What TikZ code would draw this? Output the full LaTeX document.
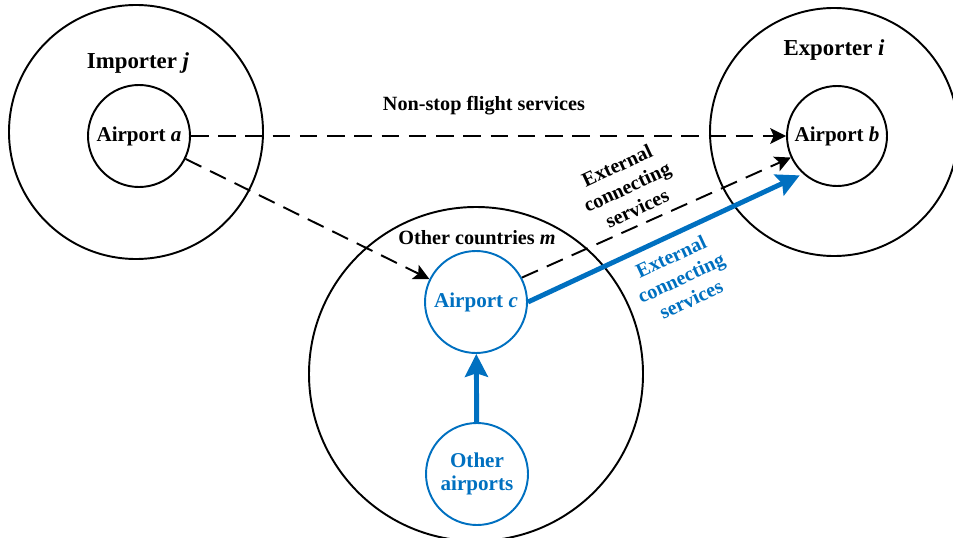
\documentclass[tikz,border=0pt]{standalone}
\usepackage{fontspec}
\setmainfont{Liberation Serif}
\usetikzlibrary{arrows.meta}
\definecolor{airblue}{RGB}{0,112,192}
\newcommand{\lblfont}{\fontsize{11.5}{13.5}\selectfont\bfseries}
\newcommand{\portfont}{\fontsize{12}{13.5}\selectfont\bfseries}
\newcommand{\ctryfont}{\fontsize{13}{15}\selectfont\bfseries}
\tikzset{
	country/.style={draw, circle, line width=1.1pt, inner sep=0pt, minimum size=#1},
	port/.style={draw, circle, line width=1.1pt, inner sep=0pt, minimum size=2.04cm, font=\portfont, align=center},
	flightdash/.style={line width=1.1pt, dash pattern=on 10pt off 5.5pt, -{Stealth[length=9pt, width=9pt, inset=2pt]}},
	bluearrow/.style={airblue, line width=2.8pt, -{Stealth[length=13pt, width=13pt, inset=2pt]}}
}

\begin{document}
\begin{tikzpicture}
		%%%%% START %%%%%
		\useasboundingbox (0, 0) rectangle (19.06, -10.74);
		
		\node[country=5.08cm] (imp) at (2.72, -2.64) {};
		\node[country=4.96cm] (exp) at (16.68, -2.64) {};
		\node[country=6.68cm] (oth) at (9.52, -7.48) {};
		
		\node[font=\ctryfont] (impl) at (2.76, -1.26) {Importer \textit{j}};
		\node[font=\ctryfont] (expl) at (16.68, -1.0) {Exporter \textit{i}};
		\node[font=\lblfont] (othl) at (9.54, -4.76) {Other countries \textit{m}};
		
		\node[port] (a) at (2.78, -2.72) {Airport \textit{a}};
		\node[port, minimum size=2cm] (b) at (16.74, -2.72) {Airport \textit{b}};
		\node[port, airblue] (c) at (9.52, -6.04) {Airport \textit{c}};
		\node[port, airblue] (o) at (9.54, -9.48) {Other\\airports};
		
		\draw[flightdash] (a) -- (b);
		\draw[flightdash] (a) -- (c);
		\draw[flightdash] (c.28) -- (b.205);
		\draw[bluearrow, shorten >=2pt] (c.east) -- (b.228);
		\draw[bluearrow] (o) -- (c);
		
		\node[font=\lblfont] (nonstop) at (9.68, -2.12) {Non-stop flight services};
		\node[font=\lblfont, rotate=25, align=center] (extblk) at (12.54, -3.74) {External\\connecting\\services};
		\node[font=\lblfont, text=airblue, rotate=25, align=center] (extblu) at (13.62, -5.56) {External\\connecting\\services};
		%%%%% END %%%%%
\end{tikzpicture}
\end{document}
